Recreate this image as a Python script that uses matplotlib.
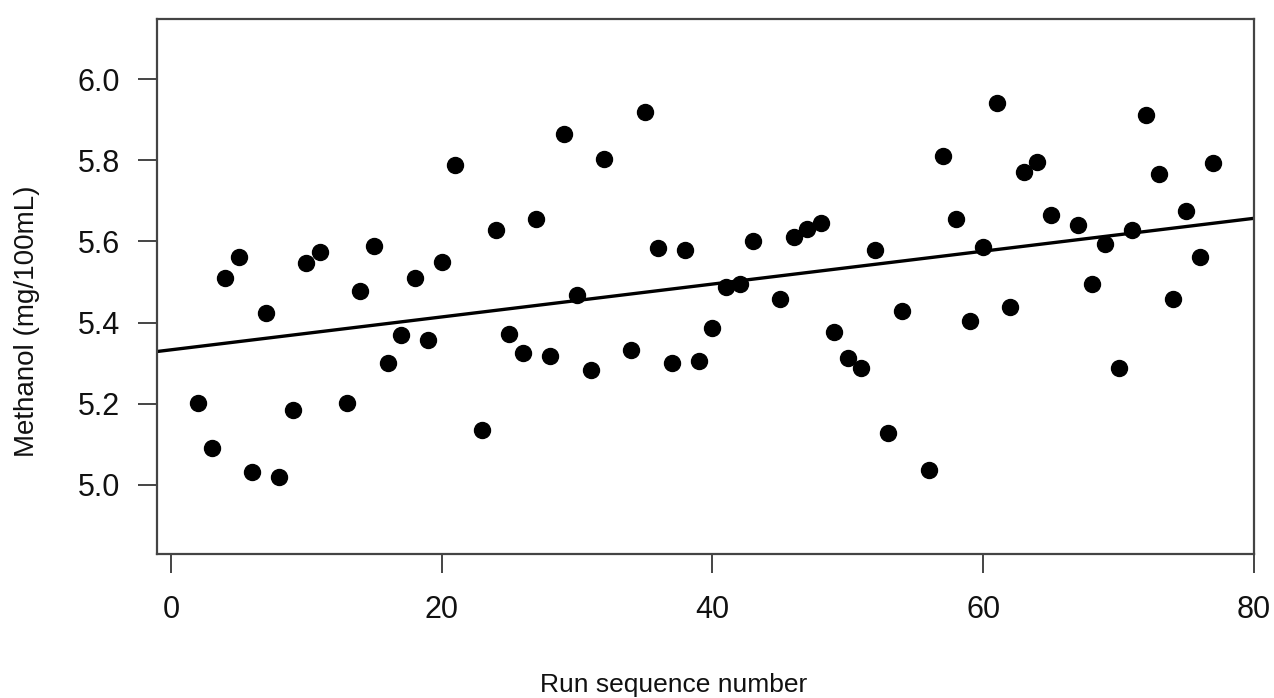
import numpy as np
import matplotlib
matplotlib.use("Agg")
import matplotlib.pyplot as plt

plt.rcParams['font.family'] = ['Liberation Sans', 'DejaVu Sans']

# run sequence number and methanol readings
run_no = [2, 3, 4, 5, 6, 7, 8, 9, 10, 11,
          13, 14, 15, 16, 17, 18, 19, 20, 21,
          23, 24, 25, 26, 27, 28, 29, 30, 31, 32,
          34, 35, 36, 37, 38, 39, 40, 41, 42, 43,
          45, 46, 47, 48, 49, 50, 51, 52, 53, 54,
          56, 57, 58, 59, 60, 61, 62, 63, 64, 65,
          67, 68, 69, 70, 71, 72, 73, 74, 75, 76, 77]
methanol = [5.202, 5.091, 5.509, 5.561, 5.032, 5.424, 5.020, 5.185, 5.547, 5.575,
            5.202, 5.477, 5.590, 5.301, 5.370, 5.509, 5.356, 5.549, 5.788,
            5.136, 5.629, 5.372, 5.325, 5.655, 5.319, 5.864, 5.467, 5.283, 5.804,
            5.332, 5.919, 5.583, 5.301, 5.579, 5.306, 5.387, 5.487, 5.496, 5.600,
            5.459, 5.610, 5.630, 5.645, 5.376, 5.314, 5.287, 5.580, 5.128, 5.428,
            5.037, 5.810, 5.655, 5.405, 5.586, 5.941, 5.438, 5.770, 5.795, 5.664,
            5.640, 5.494, 5.594, 5.288, 5.627, 5.912, 5.765, 5.459, 5.675, 5.561, 5.793]

# fitted trend line as drawn
fit_intercept = 5.333
fit_slope = 0.00405

x_ticks = [0, 20, 40, 60, 80]
y_ticks = [5.0, 5.2, 5.4, 5.6, 5.8, 6.0]

fig = plt.figure(figsize=(12.74, 6.98), dpi=100)
ax = fig.add_axes([157/1274, 1 - 554/698, (1254-157)/1274, (554-19)/698])

ax.plot(run_no, methanol, 'o', color='black', ms=11.5, mec='black')

xl = np.array([-1.03, 80])
ax.plot(xl, fit_intercept + fit_slope*xl, color='black', lw=2.4)

ax.set_xlim(-1.03, 80)
ax.set_ylim(4.83, 6.148)
ax.set_xticks(x_ticks)
ax.set_xticklabels([str(v) for v in x_ticks])
ax.set_yticks(y_ticks)
ax.set_yticklabels([f'{v:.1f}' for v in y_ticks])

edge = '#444444'
for s in ax.spines.values():
    s.set_color(edge)
    s.set_linewidth(1.6)
ax.tick_params(axis='both', colors=edge, labelcolor='#111111', length=13.5, width=1.4,
               labelsize=22)
ax.tick_params(axis='x', pad=16)
ax.tick_params(axis='y', pad=13)

fig.text(674/1274, 1 - 685/698, 'Run sequence number', ha='center', va='center',
         fontsize=19, color='#111111')
fig.text(27/1274, 1 - 321/698, 'Methanol (mg/100mL)', ha='center', va='center',
         rotation=90, fontsize=20, color='#111111')

fig.savefig('out.png', dpi=100)
